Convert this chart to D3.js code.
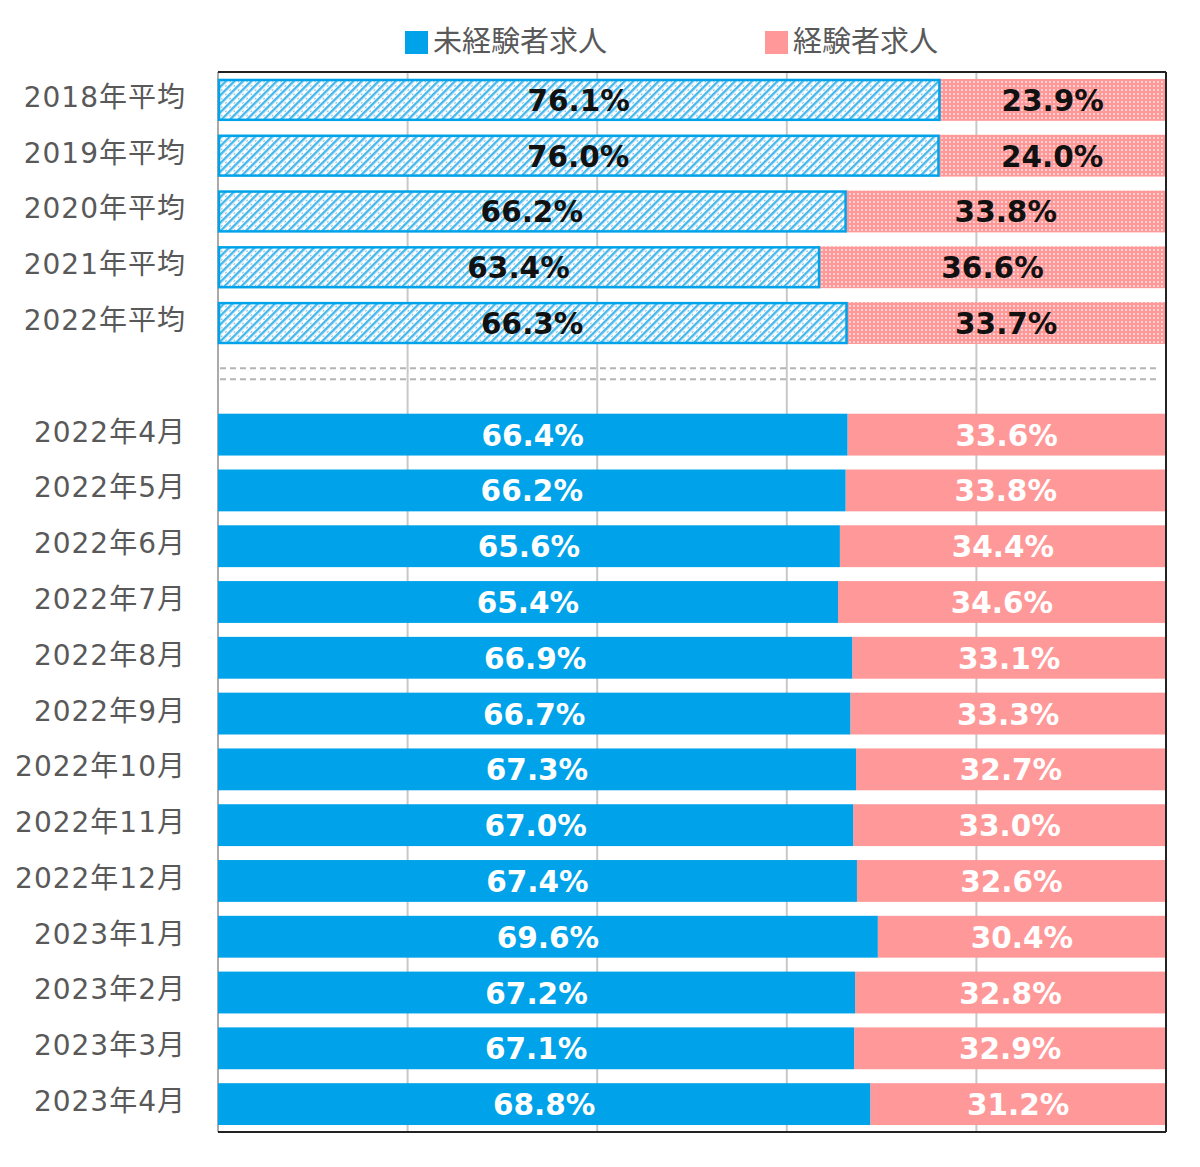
<!DOCTYPE html>
<html><head><meta charset="utf-8">
<script src="https://cdn.jsdelivr.net/npm/d3@7"></script>
<style>body{margin:0;background:#fff;} svg{display:block;}</style>
</head><body>
<svg id="chart" width="1200" height="1167"></svg>
<script>
const categories = ["2018年平均","2019年平均","2020年平均","2021年平均","2022年平均","",
  "2022年4月","2022年5月","2022年6月","2022年7月","2022年8月","2022年9月","2022年10月","2022年11月","2022年12月",
  "2023年1月","2023年2月","2023年3月","2023年4月"];
const inexperienced = [76.1,76.0,66.2,63.4,66.3,null,66.4,66.2,65.6,65.4,66.9,66.7,67.3,67.0,67.4,69.6,67.2,67.1,68.8];
const experienced   = [23.9,24.0,33.8,36.6,33.7,null,33.6,33.8,34.4,34.6,33.1,33.3,32.7,33.0,32.6,30.4,32.8,32.9,31.2];
const averageRows = ["2018年平均","2019年平均","2020年平均","2021年平均","2022年平均"];
const seriesNames = ["未経験者求人","経験者求人"];
const xTicks = [0,20,40,60,80,100];

(function(){
const BLUE = "#00A3E9", PINK = "#FF9999";
const svg = d3.select("#chart");
const pL = 218, pR = 1166, pT = 72, pB = 1132;

const x = d3.scaleLinear().domain([0,100]).range([pL,pR]);
const y = d3.scaleBand().domain(categories.map((c,i)=>i)).range([pT,pB]).paddingInner(0.25).paddingOuter(0.125);

const defs = svg.append("defs");
const hatch = defs.append("pattern").attr("id","hatch").attr("patternUnits","userSpaceOnUse")
  .attr("width",6).attr("height",6).attr("patternTransform","rotate(45)");
hatch.append("rect").attr("width",6).attr("height",6).attr("fill","#ffffff");
hatch.append("rect").attr("x",0).attr("y",0).attr("width",2.4).attr("height",6).attr("fill","#45b8ec");
hatch.append("circle").attr("cx",4.5).attr("cy",3).attr("r",0.7).attr("fill","#5a8fc0");
const dots = defs.append("pattern").attr("id","dots").attr("patternUnits","userSpaceOnUse")
  .attr("width",4).attr("height",4);
dots.append("rect").attr("width",4).attr("height",4).attr("fill",PINK);
dots.append("rect").attr("x",1).attr("y",1).attr("width",2).attr("height",2).attr("fill","#ffd0d0");

svg.append("g").selectAll("line").data(xTicks.slice(1,-1)).join("line")
  .attr("x1",d=>x(d)).attr("x2",d=>x(d)).attr("y1",pT).attr("y2",pB)
  .attr("stroke","#c8c8c8").attr("stroke-width",2);

svg.append("line").attr("x1",pL).attr("x2",pL).attr("y1",pT).attr("y2",pB)
  .attr("stroke","#aaaaaa").attr("stroke-width",2);

const rows = categories.map((c,i)=>({c,i,a:inexperienced[i],b:experienced[i],avg:averageRows.includes(c)})).filter(d=>d.a!==null);

const g = svg.append("g");
g.selectAll("rect.exp").data(rows).join("rect").attr("class","exp")
  .attr("x",d=>x(d.a)).attr("width",d=>x(100)-x(d.a))
  .attr("y",d=>y(d.i)).attr("height",y.bandwidth())
  .attr("fill",d=>d.avg?"url(#dots)":PINK);
g.selectAll("rect.inx").data(rows).join("rect").attr("class","inx")
  .attr("x",d=>d.avg?x(0)+1:x(0)).attr("width",d=>d.avg?x(d.a)-x(0)-1:x(d.a)-x(0))
  .attr("y",d=>d.avg?y(d.i)+1:y(d.i)).attr("height",d=>d.avg?y.bandwidth()-2:y.bandwidth())
  .attr("fill",d=>d.avg?"url(#hatch)":BLUE)
  .attr("stroke",d=>d.avg?BLUE:"none").attr("stroke-width",2.5);

const lblFont = "'DejaVu Sans', Verdana, sans-serif";
function lbl(sel, cls, xf, tf){
  sel.selectAll("text."+cls).data(rows).join("text").attr("class",cls)
    .attr("x",xf).attr("y",d=>y(d.i)+y.bandwidth()/2+1)
    .attr("text-anchor","middle").attr("dominant-baseline","central")
    .attr("font-family",lblFont).attr("font-weight","bold").attr("font-size",29.5)
    .attr("fill",d=>d.avg?"#111":"#fff")
    .text(tf);
}
lbl(g,"la",d=>(x(0)+x(d.a))/2,d=>d.a.toFixed(1)+"%");
lbl(g,"lb",d=>(x(d.a)+x(100))/2,d=>d.b.toFixed(1)+"%");

const gapIdx = categories.indexOf("");
const gc = y(gapIdx)+y.bandwidth()/2;
[gc-10.5, gc+0.5].forEach(yy=>{
  svg.append("line").attr("x1",pL+2).attr("x2",1158).attr("y1",yy).attr("y2",yy)
    .attr("stroke","#b4b4b4").attr("stroke-width",2).attr("stroke-dasharray","6,4");
});

svg.append("line").attr("x1",pL).attr("x2",pR).attr("y1",pT).attr("y2",pT).attr("stroke","#222").attr("stroke-width",2);
svg.append("line").attr("x1",pR).attr("x2",pR).attr("y1",pT).attr("y2",pB).attr("stroke","#222").attr("stroke-width",2);
svg.append("line").attr("x1",pL).attr("x2",pR).attr("y1",pB).attr("y2",pB).attr("stroke","#222").attr("stroke-width",2);

const yAxis = d3.axisLeft(y).tickSize(0).tickPadding(0).tickFormat(i=>categories[i]);
const ya = svg.append("g").attr("transform",`translate(${pL-32},-2)`).call(yAxis);
ya.select(".domain").remove();
ya.selectAll("text").attr("font-family","'DejaVu Sans', 'Noto Sans CJK JP', sans-serif")
  .attr("font-size",28).attr("letter-spacing",1).attr("fill","#595959");

const legend = svg.append("g");
const legItems = [{n:seriesNames[0],c:BLUE,x:405},{n:seriesNames[1],c:PINK,x:765}];
legItems.forEach(it=>{
  legend.append("rect").attr("x",it.x).attr("y",31).attr("width",23).attr("height",23).attr("fill",it.c);
  legend.append("text").attr("x",it.x+28).attr("y",39).attr("dominant-baseline","central")
    .attr("font-family","'Noto Sans CJK JP', sans-serif").attr("font-size",29).attr("fill","#595959").text(it.n);
});
})();
</script>
</body></html>
